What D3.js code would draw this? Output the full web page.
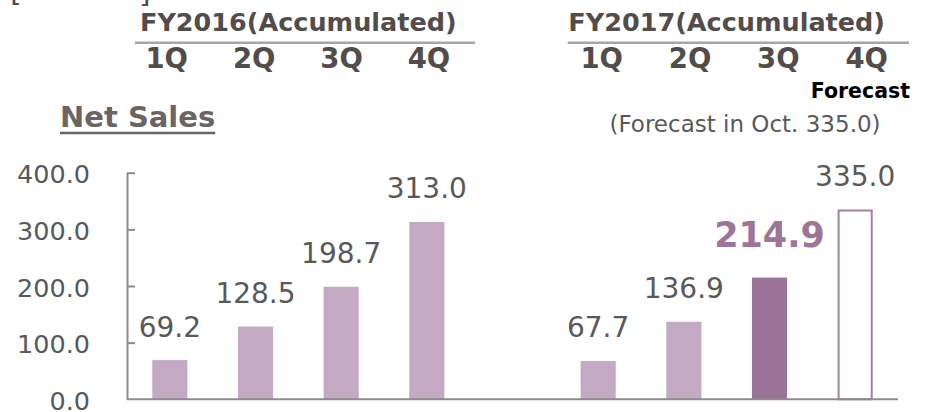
<!DOCTYPE html>
<html>
<head>
<meta charset="utf-8">
<script src="https://cdn.jsdelivr.net/npm/d3@7"></script>
<style>
  html, body { margin: 0; padding: 0; background: #ffffff; }
  svg { display: block; font-family: "DejaVu Sans", Verdana, sans-serif; }
</style>
</head>
<body>
<div id="chart"></div>
<script>
// ---- Data ----
const categories = ["FY2016 1Q", "FY2016 2Q", "FY2016 3Q", "FY2016 4Q", "gap",
                    "FY2017 1Q", "FY2017 2Q", "FY2017 3Q", "FY2017 4Q"];
const netSales   = [69.2, 128.5, 198.7, 313.0, null, 67.7, 136.9, 214.9, 335.0];
const barKinds   = ["actual", "actual", "actual", "actual", "none",
                    "actual", "actual", "latest", "forecast"];
const yTicks     = [0, 100, 200, 300, 400];
const quarters   = ["1Q", "2Q", "3Q", "4Q"];
const fiscalYears = ["FY2016(Accumulated)", "FY2017(Accumulated)"];
const chartTitle = "Net Sales";
const forecastTag = "Forecast";
const forecastNote = "(Forecast in Oct. 335.0)";

// ---- Layout ----
const W = 926, H = 412;
const plotLeft = 127, plotRight = 898, plotBottom = 399.3, plotTop = 172.7;

const svg = d3.select("#chart").append("svg")
  .attr("width", W).attr("height", H);

const x = d3.scaleBand().domain(categories)
  .range([plotLeft, plotRight]).paddingInner(0.59).paddingOuter(0.295);
const y = d3.scaleLinear().domain([0, 400]).range([plotBottom, plotTop]);

const textGray = "#595959";
const headGray = "#524d4a";
const lineGray = "#a6a6a6";
const axisGray = "#8c8c8c";
const lightBar = "#c4a9c2";
const darkBar = "#9c7398";

// bracket fragments at top-left (cut off by the frame, as in the reference)
svg.append("text").attr("x", 10).attr("y", 1)
  .attr("font-size", 30).attr("fill", headGray).text("[");
svg.append("text").attr("x", 139).attr("y", 2)
  .attr("font-size", 30).attr("fill", headGray).text("]");

// ---- Header groups ----
const groups = [
  { title: fiscalYears[0], keys: categories.slice(0, 4), line: [135, 475], q: [166.7, 429] },
  { title: fiscalYears[1], keys: categories.slice(5, 9), line: [567.7, 909], q: [601.7, 866.7] }
];
groups.forEach(g => {
  const cx = (x(g.keys[0]) + x(g.keys[3]) + x.bandwidth()) / 2;
  svg.append("text").attr("x", cx).attr("y", 30.5)
    .attr("text-anchor", "middle").attr("font-size", 25.5).attr("font-weight", "bold")
    .attr("fill", headGray).text(g.title);
  svg.append("line").attr("x1", g.line[0]).attr("x2", g.line[1])
    .attr("y1", 42.7).attr("y2", 42.7).attr("stroke", lineGray).attr("stroke-width", 2.5);
  const qx = d3.scalePoint().domain(quarters).range(g.q);
  svg.append("g").selectAll("text").data(quarters).join("text")
    .attr("x", d => qx(d)).attr("y", 67.5)
    .attr("text-anchor", "middle").attr("font-size", 27.5).attr("font-weight", "bold")
    .attr("fill", headGray).text(d => d);
});

svg.append("text").attr("x", 910).attr("y", 98)
  .attr("text-anchor", "end").attr("font-size", 20.5).attr("font-weight", "bold")
  .attr("fill", "#000000").text(forecastTag);

svg.append("text").attr("x", 745).attr("y", 132)
  .attr("text-anchor", "middle").attr("font-size", 23)
  .attr("fill", textGray).text(forecastNote);

// ---- Title ----
const title = svg.append("text").attr("x", 60).attr("y", 126.7)
  .attr("font-size", 29).attr("font-weight", "bold")
  .attr("fill", "#6a6562").text(chartTitle);
const tw = title.node().getComputedTextLength();
svg.append("line").attr("x1", 60).attr("x2", 60 + tw)
  .attr("y1", 133).attr("y2", 133).attr("stroke", "#6a6562").attr("stroke-width", 2.6);

// ---- Y axis ----
const yAxis = d3.axisLeft(y).tickValues(yTicks)
  .tickFormat(d3.format(".1f")).tickSizeInner(-8).tickSizeOuter(0).tickPadding(37);
const ga = svg.append("g").attr("transform", `translate(${plotLeft},0)`).call(yAxis);
ga.select(".domain").attr("stroke", axisGray).attr("stroke-width", 2);
ga.selectAll(".tick line").attr("stroke", axisGray).attr("stroke-width", 2)
  .attr("display", d => d === 0 ? "none" : null);
ga.selectAll(".tick text").attr("font-size", 25.5).attr("fill", textGray)
  .attr("font-family", "DejaVu Sans, Verdana, sans-serif").attr("dy", "0.4em");

// ---- Bars ----
const rows = categories.map((c, i) => ({ c, v: netSales[i], kind: barKinds[i] }))
  .filter(d => d.v !== null);

svg.append("g").selectAll("rect").data(rows).join("rect")
  .attr("x", d => d.kind === "forecast" ? x(d.c) + 1 : x(d.c))
  .attr("width", d => d.kind === "forecast" ? x.bandwidth() - 2 : x.bandwidth())
  .attr("y", d => d.kind === "forecast" ? y(d.v) + 1 : y(d.v))
  .attr("height", d => d.kind === "forecast" ? y(0) - y(d.v) - 1 : y(0) - y(d.v))
  .attr("fill", d => d.kind === "forecast" ? "#ffffff" : d.kind === "latest" ? darkBar : lightBar)
  .attr("stroke", d => d.kind === "forecast" ? "#a67fa2" : "none")
  .attr("stroke-width", 2);

// baseline
svg.append("line").attr("x1", plotLeft).attr("x2", plotRight)
  .attr("y1", y(0)).attr("y2", y(0)).attr("stroke", axisGray).attr("stroke-width", 2);

// ---- Value labels ----
svg.append("g").selectAll("text").data(rows).join("text")
  .attr("x", d => x(d.c) + x.bandwidth() / 2)
  .attr("y", d => y(d.v) - (d.kind === "latest" ? 31 : 23.5))
  .attr("text-anchor", "middle")
  .attr("font-size", d => d.kind === "latest" ? 35 : 28)
  .attr("font-weight", d => d.kind === "latest" ? "bold" : "normal")
  .attr("fill", d => d.kind === "latest" ? "#9e7599" : textGray)
  .text(d => d3.format(".1f")(d.v));
</script>
</body>
</html>
